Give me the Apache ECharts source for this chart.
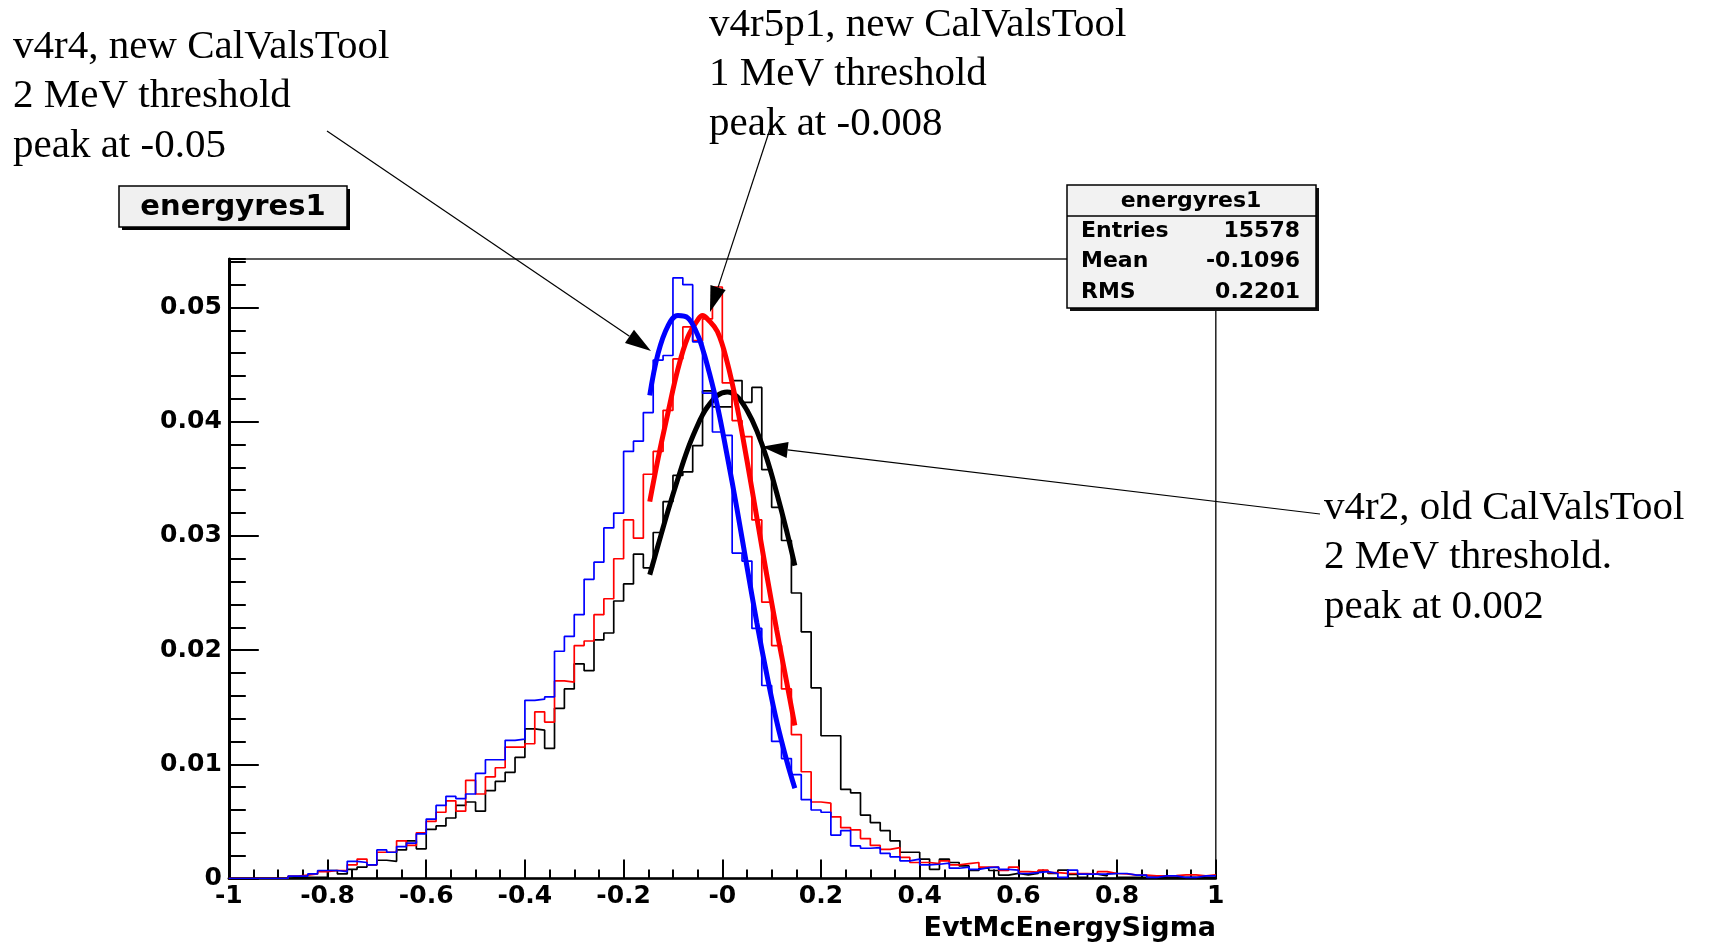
<!DOCTYPE html>
<html>
<head>
<meta charset="utf-8">
<title>energyres1</title>
<script src="https://cdn.jsdelivr.net/npm/echarts@6/dist/echarts.min.js"></script>
<style>
html, body { margin: 0; padding: 0; background: #fff; }
#main { width: 1710px; height: 944px; }
</style>
</head>
<body>
<div id="main"></div>
<script>
// histogram bins: 100 bins of 0.02 from -1 to 1, contents in units of 1e-3
var xLow = -1, binW = 0.02;
var blackHist = [
  0, 0, 0, 0, 0, 0, 0.1, 0.1, 0.1, 0.1,
  0.7, 0.4, 0.8, 1.0, 1.2, 1.6, 1.5, 2.5, 3.3, 2.6,
  4.3, 4.6, 5.3, 6.4, 6.7, 5.9, 7.7, 8.5, 9.3, 10.6,
  13.1, 13.0, 11.4, 14.9, 16.6, 18.8, 18.2, 20.9, 21.5, 24.3,
  25.8, 28.4, 27.2, 30.3, 33.0, 35.3, 35.6, 37.9, 42.7, 41.3,
  41.3, 43.6, 41.7, 43.0, 35.8, 32.5, 29.6, 25.0, 21.6, 16.7,
  12.5, 12.5, 7.8, 7.5, 5.55, 4.9, 4.2, 3.3, 2.3, 2.3,
  1.7, 0.8, 1.7, 1.4, 1.1, 0.7, 0.9, 0.7, 0.3, 0.45,
  0.32, 0.44, 0.67, 0.44, 0.73, 0.35, 0.09, 0.38, 0.23, 0.44,
  0.09, 0.09, 0.09, 0.12, 0.09, 0.09, 0.09, 0.09, 0.09, 0.09
];
var redHist = [
  0, 0, 0, 0, 0, 0, 0.2, 0.3, 0.4, 0.6,
  0.7, 0.7, 1.2, 1.7, 1.2, 2.3, 2.3, 3.3, 2.9, 4.0,
  5.0, 5.8, 6.8, 5.9, 8.6, 7.4, 8.9, 9.7, 11.5, 11.5,
  11.8, 14.6, 13.7, 17.3, 17.2, 20.4, 20.8, 23.1, 24.5, 28.0,
  31.4, 29.8, 35.4, 37.4, 41.0, 45.5, 48.3, 47.1, 49.0, 51.8,
  43.4, 40.1, 38.7, 31.4, 24.2, 20.4, 16.6, 12.6, 9.35, 6.7,
  6.6, 5.4, 4.45, 4.25, 3.5, 2.9, 2.55, 2.7, 1.85, 1.4,
  1.4, 1.3, 1.55, 1.2, 1.3, 1.4, 1.0, 1.0, 0.7, 1.0,
  0.6, 0.55, 0.73, 0.52, 0.45, 0.44, 0.44, 0.38, 0.6, 0.44,
  0.4, 0.29, 0.29, 0.23, 0.23, 0.25, 0.32, 0.32, 0.23, 0.32
];
var blueHist = [
  0, 0, 0, 0, 0, 0, 0.2, 0.2, 0.4, 0.7,
  0.7, 0.6, 1.5, 1.4, 1.2, 2.5, 2.3, 2.8, 3.1, 3.9,
  5.2, 6.4, 7.2, 7.0, 7.4, 9.2, 10.4, 10.4, 12.1, 12.2,
  15.6, 15.7, 15.9, 19.9, 21.2, 23.1, 26.2, 27.7, 30.7, 32.0,
  37.4, 38.3, 40.8, 45.4, 45.8, 52.6, 52.0, 47.0, 42.5, 39.1,
  38.8, 28.5, 27.8, 21.9, 16.9, 12.0, 10.5, 9.1, 6.9, 6.0,
  5.8, 3.8, 4.2, 2.85, 2.65, 2.7, 2.2, 1.9, 1.55, 1.7,
  1.2, 1.25, 1.35, 0.9, 1.0, 0.8, 0.95, 1.0, 0.8, 0.73,
  0.44, 0.52, 0.6, 0.44, 0.09, 0.73, 0.38, 0.38, 0.38, 0.44,
  0.44, 0.29, 0.29, 0.09, 0.23, 0.23, 0.09, 0.09, 0.23, 0.23
];

// fitted curves (units of 1e-3)
var fitX = [-0.147, -0.13, -0.11, -0.09, -0.07, -0.05, -0.04, -0.03, -0.01, 0.01, 0.03, 0.05, 0.07, 0.09, 0.11, 0.13, 0.147];
var blackFit = [26.6, 29.2, 32.2, 35.0, 37.6, 39.7, 40.6, 41.3, 42.3, 42.6, 42.2, 41.0, 39.2, 36.8, 33.8, 30.5, 27.4];
var redFit = [33.0, 36.8, 40.8, 44.6, 47.4, 48.9, 49.3, 49.0, 47.9, 45.2, 41.3, 36.6, 31.6, 26.6, 21.8, 17.3, 13.4];
var blueFit = [42.3, 46.0, 48.4, 49.3, 49.1, 47.6, 46.4, 44.9, 41.4, 37.0, 32.3, 27.3, 22.4, 17.9, 13.8, 10.4, 7.9];

var xTickLabels = ['-1', '-0.8', '-0.6', '-0.4', '-0.2', '-0', '0.2', '0.4', '0.6', '0.8', '1'];
var yTickLabels = ['0', '0.01', '0.02', '0.03', '0.04', '0.05'];
var yMax = 0.05425;

var stats = [['Entries', '15578'], ['Mean', '-0.1096'], ['RMS', '0.2201']];

var notes = [
  { lines: ['v4r4, new CalValsTool', '2 MeV threshold', 'peak at -0.05'], x: 13, y: 47, tail: [327, 131], tip: [-0.1445, 0.0462] },
  { lines: ['v4r5p1, new CalValsTool', '1 MeV threshold', 'peak at -0.008'], x: 709, y: 25, tail: [770, 129], tip: [-0.025, 0.0496] },
  { lines: ['v4r2, old CalValsTool', '2 MeV threshold.', 'peak at 0.002'], x: 1324, y: 508, tail: [1320, 514], tip: [0.080, 0.0378] }
];

var boldFont = '"DejaVu Sans", Arial, sans-serif';
var serifFont = '"Liberation Serif", "Times New Roman", serif';

function histPoints(vals) {
  var pts = [];
  for (var i = 0; i < vals.length; i++) pts.push([xLow + i * binW, vals[i] / 1000]);
  pts.push([xLow + vals.length * binW, vals[vals.length - 1] / 1000]);
  return pts;
}
function fitPoints(vals) {
  return fitX.map(function (x, i) { return [x, vals[i] / 1000]; });
}
function histSeries(vals, color) {
  return { type: 'line', step: 'end', data: histPoints(vals), showSymbol: false, symbol: 'none',
           lineStyle: { color: color, width: 1.7 }, silent: true };
}
function fitSeries(vals, color) {
  return { type: 'line', smooth: 0.4, data: fitPoints(vals), showSymbol: false, symbol: 'none',
           lineStyle: { color: color, width: 5 }, silent: true };
}

var chart = echarts.init(document.getElementById('main'));

var option = {
  animation: false,
  backgroundColor: '#fff',
  grid: { left: 228.8, top: 259, width: 987, height: 619.5, show: true,
          borderColor: '#222', borderWidth: 1.5, backgroundColor: 'transparent' },
  xAxis: {
    type: 'value', min: -1, max: 1, interval: 0.2,
    axisLine: { show: true, onZero: false, lineStyle: { color: '#000', width: 2.5 } },
    axisTick: { show: true, inside: true, length: 19, lineStyle: { color: '#000', width: 2 } },
    minorTick: { show: true, splitNumber: 4, length: 9, lineStyle: { color: '#000', width: 2 } },
    splitLine: { show: false },
    axisLabel: {
      margin: 5, color: '#000', fontFamily: boldFont, fontWeight: 'bold', fontSize: 25,
      showMinLabel: true, showMaxLabel: true,
      formatter: function (v) { return xTickLabels[Math.round((v + 1) / 0.2)]; }
    }
  },
  yAxis: [{
    type: 'value', position: 'left', min: 0, max: yMax, interval: 0.01,
    axisLine: { show: true, onZero: false, lineStyle: { color: '#000', width: 3 } },
    axisTick: { show: true, inside: true, length: 30, lineStyle: { color: '#000', width: 2 } },
    splitLine: { show: false },
    axisLabel: {
      margin: 7, color: '#000', fontFamily: boldFont, fontWeight: 'bold', fontSize: 25,
      showMaxLabel: false,
      formatter: function (v) {
        var k = Math.round(v / 0.01);
        return Math.abs(v - k * 0.01) < 1e-6 ? yTickLabels[k] : '';
      }
    }
  }, {
    type: 'value', position: 'left', offset: 0, min: 0, max: yMax, interval: 0.002,
    axisLine: { show: false, onZero: false },
    axisTick: { show: true, inside: true, length: 17, lineStyle: { color: '#000', width: 2 } },
    axisLabel: { show: false },
    splitLine: { show: false }
  }],
  series: [
    histSeries(blackHist, '#000000'),
    fitSeries(blackFit, '#000000'),
    histSeries(redHist, '#ff0000'),
    fitSeries(redFit, '#ff0000'),
    histSeries(blueHist, '#0000ff'),
    fitSeries(blueFit, '#0000ff')
  ]
};
chart.setOption(option);

// title box, stats box, annotation texts and arrows
var g = [];
// title box
g.push({ type: 'rect', shape: { x: 122, y: 189, width: 228, height: 41 }, style: { fill: '#000' }, z: 100 });
g.push({ type: 'rect', shape: { x: 119, y: 186, width: 228, height: 41 }, style: { fill: '#f0f0f0', stroke: '#000', lineWidth: 1.5 }, z: 101 });
g.push({ type: 'text', x: 233, y: 207, style: { text: 'energyres1', font: 'bold 29px ' + boldFont, fill: '#000', align: 'center', verticalAlign: 'middle' }, z: 102 });

// stats box
g.push({ type: 'rect', shape: { x: 1070, y: 188, width: 249, height: 123 }, style: { fill: '#111' }, z: 100 });
g.push({ type: 'rect', shape: { x: 1067, y: 185, width: 249, height: 123 }, style: { fill: '#f2f2f2', stroke: '#000', lineWidth: 1.5 }, z: 101 });
g.push({ type: 'line', shape: { x1: 1067, y1: 216, x2: 1316, y2: 216 }, style: { stroke: '#000', lineWidth: 1.5 }, z: 102 });
g.push({ type: 'text', x: 1191, y: 201.5, style: { text: 'energyres1', font: 'bold 22px ' + boldFont, fill: '#000', align: 'center', verticalAlign: 'middle' }, z: 102 });
stats.forEach(function (row, i) {
  var yy = 231 + i * 30.5;
  g.push({ type: 'text', x: 1081, y: yy, style: { text: row[0], font: 'bold 22px ' + boldFont, fill: '#000', align: 'left', verticalAlign: 'middle' }, z: 102 });
  g.push({ type: 'text', x: 1300, y: yy, style: { text: row[1], font: 'bold 22px ' + boldFont, fill: '#000', align: 'right', verticalAlign: 'middle' }, z: 102 });
});

// x axis title
g.push({ type: 'text', x: 1216, y: 929, style: { text: 'EvtMcEnergySigma', font: 'bold 27px ' + boldFont, fill: '#000', align: 'right', verticalAlign: 'middle' }, z: 102 });

// annotations
notes.forEach(function (n) {
  n.lines.forEach(function (t, i) {
    g.push({ type: 'text', x: n.x, y: n.y + i * 49.5, style: { text: t, font: '41px ' + serifFont, fill: '#000', align: 'left', verticalAlign: 'middle' }, z: 102 });
  });
  var tip = chart.convertToPixel({ gridIndex: 0 }, n.tip);
  var dx = tip[0] - n.tail[0], dy = tip[1] - n.tail[1];
  var len = Math.sqrt(dx * dx + dy * dy), ux = dx / len, uy = dy / len;
  var hl = 26, hw = 8;
  var bx = tip[0] - ux * hl, by = tip[1] - uy * hl;
  g.push({ type: 'line', shape: { x1: n.tail[0], y1: n.tail[1], x2: bx, y2: by }, style: { stroke: '#000', lineWidth: 1.2 }, z: 103 });
  g.push({ type: 'polygon', shape: { points: [[tip[0], tip[1]], [bx - uy * hw, by + ux * hw], [bx + uy * hw, by - ux * hw]] }, style: { fill: '#000' }, z: 103 });
});

chart.setOption({ graphic: g });
</script>
</body>
</html>
